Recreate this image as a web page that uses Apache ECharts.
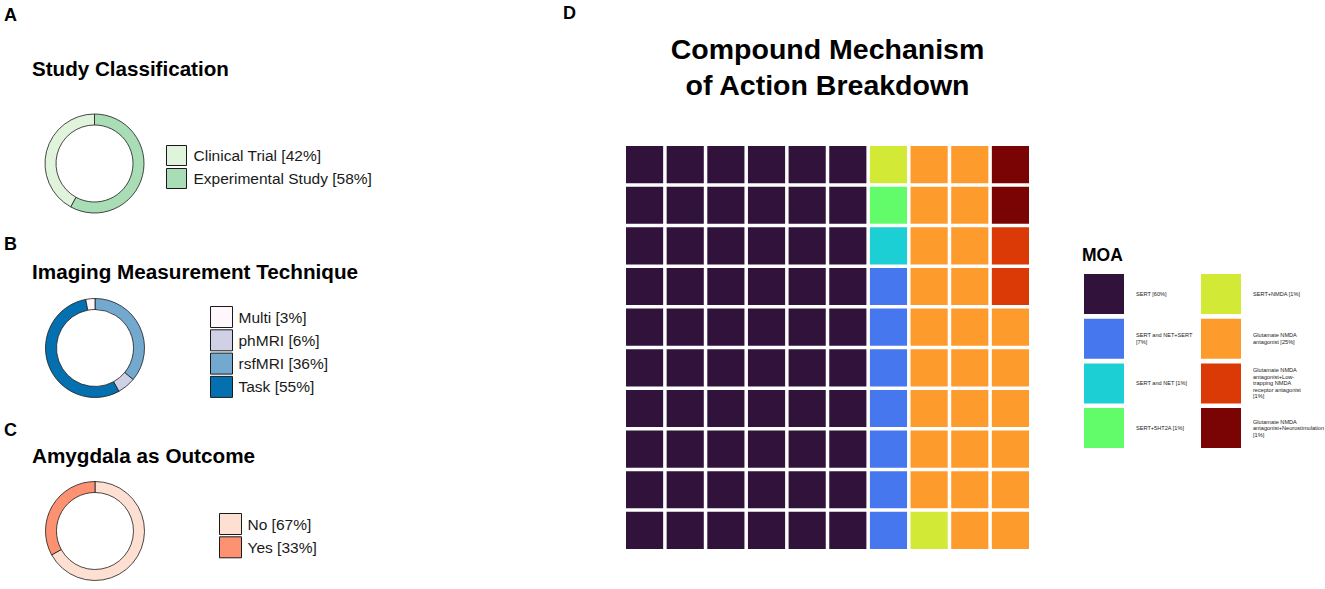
<!DOCTYPE html>
<html><head><meta charset="utf-8">
<script src="https://cdn.jsdelivr.net/npm/echarts@6/dist/echarts.min.js"></script>
<style>html,body{margin:0;padding:0;background:#fff}#c{width:1325px;height:589px}</style>
</head><body><div id="c"></div><script>
// ---------- data ----------
const studyNames = ['Clinical Trial', 'Experimental Study'];
const studyValues = [42, 58];
const studyColors = ['#e0f3db', '#a8ddb5'];
const studyDrawOrder = [1, 0];

const imagingNames = ['Multi', 'phMRI', 'rsfMRI', 'Task'];
const imagingValues = [3, 6, 36, 55];
const imagingColors = ['#fff7fb', '#d0d1e6', '#74a9cf', '#0570b0'];
const imagingDrawOrder = [2, 1, 3, 0];

const amygNames = ['No', 'Yes'];
const amygValues = [67, 33];
const amygColors = ['#fee0d2', '#fc9272'];
const amygDrawOrder = [0, 1];

const moaNames = ['SERT', 'SERT and NET+SERT', 'SERT and NET', 'SERT+5HT2A', 'SERT+NMDA',
  'Glutamate NMDA antagonist', 'Glutamate NMDA antagonist+Low-trapping NMDA receptor antagonist',
  'Glutamate NMDA antagonist+Neurostimulation'];
const moaPercents = [60, 7, 1, 1, 1, 25, 1, 1];
const moaLabels = ['SERT [60%]', 'SERT and NET+SERT\n[7%]', 'SERT and NET [1%]', 'SERT+5HT2A [1%]',
  'SERT+NMDA [1%]', 'Glutamate NMDA\nantagonist [25%]',
  'Glutamate NMDA\nantagonist+Low-\ntrapping NMDA\nreceptor antagonist\n[1%]',
  'Glutamate NMDA\nantagonist+Neurostimulation\n[1%]'];
const moaColors = ['#30123b', '#4777ef', '#1bcfd4', '#62fc6b', '#d2e935', '#fe9b2d', '#db3a07', '#7a0403'];

// waffle grid, rows top to bottom, value = MOA index
const waffleGrid = [
  [0,0,0,0,0,0,4,5,5,7],
  [0,0,0,0,0,0,3,5,5,7],
  [0,0,0,0,0,0,2,5,5,6],
  [0,0,0,0,0,0,1,5,5,6],
  [0,0,0,0,0,0,1,5,5,5],
  [0,0,0,0,0,0,1,5,5,5],
  [0,0,0,0,0,0,1,5,5,5],
  [0,0,0,0,0,0,1,5,5,5],
  [0,0,0,0,0,0,1,5,5,5],
  [0,0,0,0,0,0,1,4,5,5]
];
const gridCols = ['1','2','3','4','5','6','7','8','9','10'];
const gridRows = ['1','2','3','4','5','6','7','8','9','10'];

// ---------- build ----------
const FONT = '"Liberation Sans", Arial, Helvetica, sans-serif';
const TXT = '#1a1a1a';
const CELL_GAP = 3.5;

function pieSeries(names, values, colors, order, center) {
  return {
    type: 'pie', radius: [38.5, 49.5], center: center, startAngle: 90, clockwise: true,
    silent: true, label: { show: false }, labelLine: { show: false }, emphasis: { disabled: true },
    itemStyle: { borderColor: '#1a1a1a', borderWidth: 0.8 },
    data: order.map(i => ({ name: names[i], value: values[i], itemStyle: { color: colors[i] } }))
  };
}
function pieLegend(names, values, left, top, w, h, gap, pad) {
  const map = {};
  names.forEach((n, i) => { map[n] = n + ' [' + values[i] + '%]'; });
  return {
    data: names, left: left, top: top, orient: 'vertical', padding: 0, selectedMode: false,
    icon: 'rect', itemWidth: w, itemHeight: h, itemGap: gap,
    itemStyle: { borderColor: '#1a1a1a', borderWidth: 1 },
    formatter: n => map[n],
    textStyle: { fontSize: 15.5, fontFamily: FONT, color: TXT, padding: [0, 0, 0, pad] }
  };
}
function moaLegend(idxs, left) {
  const map = {};
  moaNames.forEach((n, i) => { map[n] = moaLabels[i]; });
  return {
    data: idxs.map(i => moaNames[i]), left: left, top: 274, orient: 'vertical', padding: 0,
    selectedMode: false, icon: 'rect', itemWidth: 40, itemHeight: 40, itemGap: 4.7,
    itemStyle: { borderWidth: 0 },
    formatter: n => map[n],
    textStyle: { fontSize: 5.6, lineHeight: 6.5, fontFamily: FONT, color: TXT, padding: [0, 0, 0, 7] }
  };
}

const waffleSeries = moaNames.map((name, k) => {
  const cells = [];
  waffleGrid.forEach((row, r) => row.forEach((v, c) => { if (v === k) cells.push([c, r]); }));
  return {
    type: 'custom', name: name, coordinateSystem: 'cartesian2d', silent: true,
    itemStyle: { color: moaColors[k] },
    encode: { x: 0, y: 1 },
    renderItem: function (params, api) {
      const p = api.coord([api.value(0), api.value(1)]);
      const s = api.size([1, 1]);
      const w = s[0] - CELL_GAP, h = s[1] - CELL_GAP;
      return { type: 'rect', shape: { x: p[0] - w / 2, y: p[1] - h / 2, width: w, height: h },
        style: { fill: api.visual('color') } };
    },
    data: cells
  };
});

function txt(text, x, y, size, align) {
  return { type: 'text', x: x, y: y, silent: true,
    style: { text: text, fill: '#000', fontSize: size, fontWeight: 'bold', fontFamily: FONT,
      align: align || 'left', verticalAlign: 'middle', lineHeight: 36 } };
}

const chart = echarts.init(document.getElementById('c'), null, { renderer: 'svg' });
chart.setOption({
  animation: false,
  backgroundColor: '#fff',
  graphic: [
    txt('A', 4, 14.5, 18), txt('B', 4, 243.5, 18), txt('C', 4, 429.5, 18), txt('D', 563, 12.5, 18),
    txt('Study Classification', 32, 68.5, 20.6),
    txt('Imaging Measurement Technique', 32, 271, 20.7),
    txt('Amygdala as Outcome', 32, 455.5, 20.7),
    txt('Compound Mechanism\nof Action Breakdown', 827.5, 67, 28.5, 'center'),
    txt('MOA', 1082, 255, 17.5)
  ],
  legend: [
    pieLegend(studyNames, studyValues, 166, 145, 20, 20, 2, 2),
    pieLegend(imagingNames, imagingValues, 210, 306, 22, 21, 1.3, 1),
    pieLegend(amygNames, amygValues, 219, 513, 22, 21, 1.3, 1),
    moaLegend([0, 1, 2, 3], 1084),
    moaLegend([4, 5, 6, 7], 1201)
  ],
  grid: { left: 624.25, top: 144.25, width: 406.5, height: 406.5, containLabel: false },
  xAxis: { type: 'category', data: gridCols, show: false, boundaryGap: true },
  yAxis: { type: 'category', data: gridRows, show: false, inverse: true, boundaryGap: true },
  series: [
    pieSeries(studyNames, studyValues, studyColors, studyDrawOrder, [94.5, 163.5]),
    pieSeries(imagingNames, imagingValues, imagingColors, imagingDrawOrder, [95, 348]),
    pieSeries(amygNames, amygValues, amygColors, amygDrawOrder, [95, 531])
  ].concat(waffleSeries)
});
</script></body></html>
